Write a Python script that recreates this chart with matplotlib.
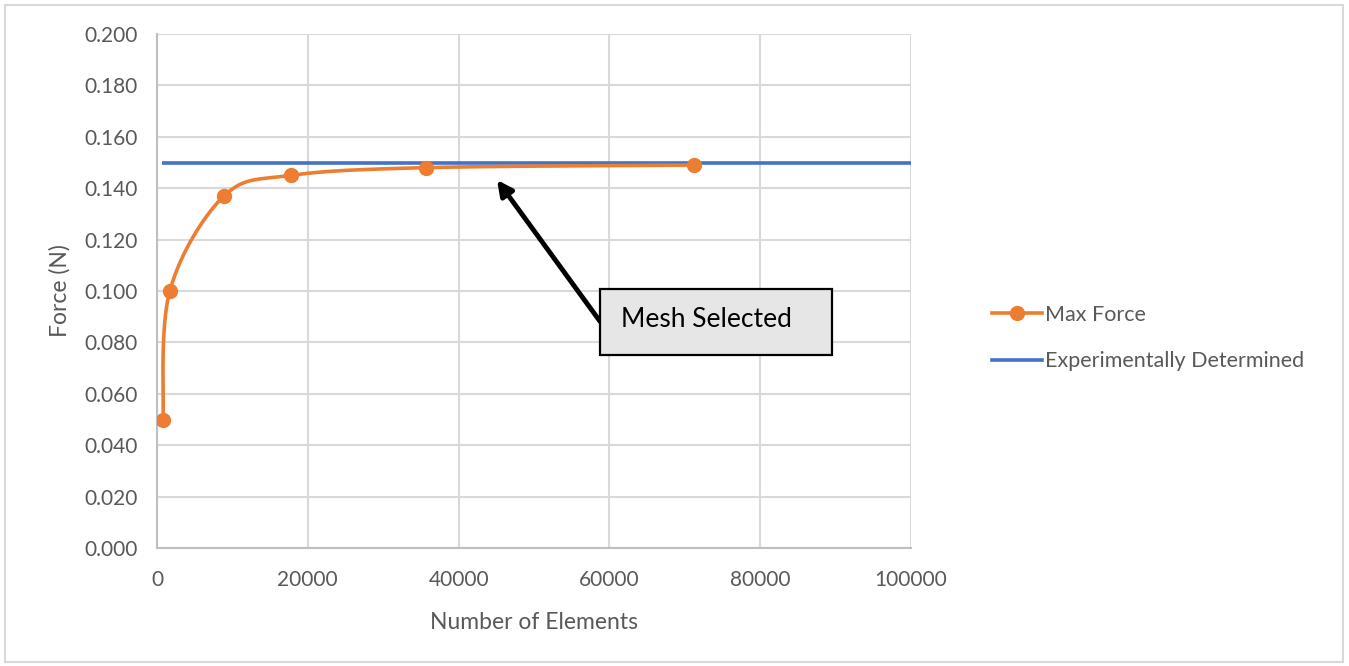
import numpy as np
import matplotlib
matplotlib.use("Agg")
import matplotlib.pyplot as plt
from matplotlib.patches import Rectangle
from matplotlib.lines import Line2D

# mesh convergence study
elements = [800, 1700, 8900, 17800, 35700, 71200]
max_force = [0.050, 0.100, 0.137, 0.145, 0.148, 0.149]
exp_x = [600, 100000]
exp_y = [0.150, 0.150]

ORANGE = "#ED7D31"
BLUE = "#4472C4"
GRID = "#D9D9D9"
TXT = "#595959"

plt.rcParams["font.family"] = ["Lato", "DejaVu Sans"]


def smooth(xs, ys, n=40):
    # Catmull-Rom style Bezier smoothing (like spreadsheet "smoothed line")
    xs = np.asarray(xs, float); ys = np.asarray(ys, float)
    px = np.concatenate([[xs[0]], xs, [xs[-1]]])
    py = np.concatenate([[ys[0]], ys, [ys[-1]]])
    ox, oy = [], []
    t = np.linspace(0, 1, n)
    for i in range(1, len(px) - 2):
        p0 = np.array([px[i], py[i]]); p3 = np.array([px[i + 1], py[i + 1]])
        c1 = p0 + (np.array([px[i + 1], py[i + 1]]) - np.array([px[i - 1], py[i - 1]])) / 6
        c2 = p3 - (np.array([px[i + 2], py[i + 2]]) - np.array([px[i], py[i]])) / 6
        b = ((1 - t) ** 3)[:, None] * p0 + (3 * (1 - t) ** 2 * t)[:, None] * c1 \
            + (3 * (1 - t) * t ** 2)[:, None] * c2 + (t ** 3)[:, None] * p3
        ox.extend(b[:, 0]); oy.extend(b[:, 1])
    return ox, oy


fig = plt.figure(figsize=(13.49, 6.66), dpi=100)
fig.patch.set_facecolor("white")
fig.add_artist(Rectangle((5 / 1349, 4 / 666), 1338 / 1349, 657 / 666,
                         transform=fig.transFigure, fill=False,
                         edgecolor="#D9D9D9", lw=1.5))

ax = fig.add_axes([157 / 1349, 1 - 548 / 666, 754 / 1349, 514 / 666])
ax.set_xlim(0, 100000)
ax.set_ylim(0, 0.2)
ax.set_xticks(np.arange(0, 100001, 20000))
ax.set_yticks(np.arange(0, 0.2001, 0.02))
ax.set_yticklabels([f"{v:.3f}" for v in np.arange(0, 0.2001, 0.02)])
ax.grid(True, color=GRID, lw=1.5)
ax.set_axisbelow(True)
for s in ["top", "right"]:
    ax.spines[s].set_visible(False)
for s in ["left", "bottom"]:
    ax.spines[s].set_color("#BFBFBF")
    ax.spines[s].set_linewidth(1.5)
ax.tick_params(length=0, labelsize=15, colors=TXT)
ax.tick_params(axis="y", pad=14)
ax.tick_params(axis="x", pad=16)

ax.plot(exp_x, exp_y, color=BLUE, lw=2.6, solid_capstyle="butt", zorder=3)
sx, sy = smooth(elements, max_force)
ax.plot(sx, sy, color=ORANGE, lw=2.6, zorder=4)
ax.plot(elements, max_force, "o", color=ORANGE, ms=10, zorder=5)

ax.set_xlabel("Number of Elements", fontsize=16.5, color=TXT, labelpad=16)
ax.set_ylabel("Force (N)", fontsize=16.5, color=TXT, labelpad=10)

# callout
ax.annotate("", xy=(45100, 0.1432), xytext=(58800, 0.0880),
            arrowprops=dict(arrowstyle="-|>,head_length=0.9,head_width=0.45",
                            color="black", lw=3.5, shrinkA=0, shrinkB=0),
            zorder=6)
ax.add_patch(Rectangle((58750, 0.0751), 30770, 0.0257, facecolor="#E7E6E6",
                       edgecolor="black", lw=1.6, zorder=7))
ax.text(61500, 0.0890, "Mesh Selected", fontsize=19, color="black",
        va="center", ha="left", zorder=8)

handles = [
    Line2D([0], [0], color=ORANGE, lw=2.6, marker="o", ms=10, label="Max Force"),
    Line2D([0], [0], color=BLUE, lw=2.6, label="Experimentally Determined"),
]
fig.legend(handles=handles, loc="center left",
           bbox_to_anchor=(973 / 1349, 1 - 338 / 666), frameon=False,
           fontsize=15.5, labelcolor=TXT, handlelength=2.3, handletextpad=0.15,
           labelspacing=1.25)

fig.savefig("out.png", dpi=100, facecolor="white")
